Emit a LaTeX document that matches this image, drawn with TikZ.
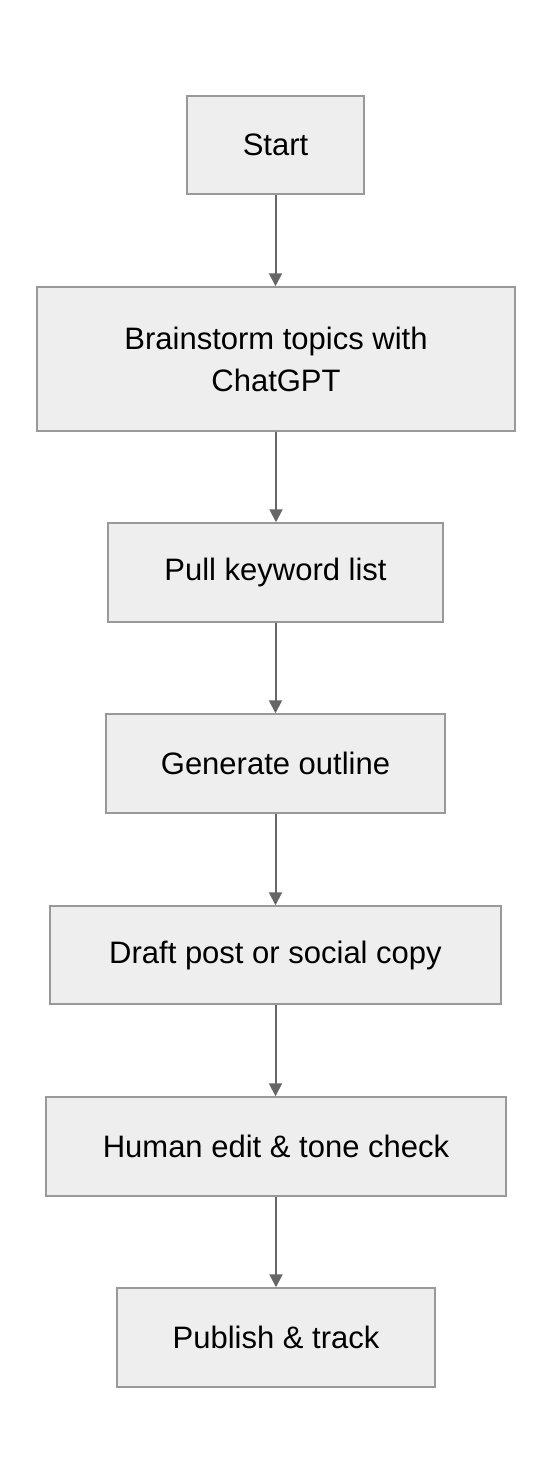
\documentclass[tikz,border=0pt]{standalone}
\usepackage{fontspec}
\setmainfont{Liberation Sans}
\usetikzlibrary{arrows.meta}
\definecolor{boxfill}{HTML}{EEEEEE}
\definecolor{boxdraw}{HTML}{999999}
\definecolor{arrowc}{HTML}{666666}
\begin{document}
\begin{tikzpicture}[x=1pt,y=1pt,
  stepbox/.style={draw=boxdraw,fill=boxfill,line width=1.5pt,inner sep=0pt,align=center,
    font=\fontsize{31}{42}\selectfont},
  conn/.style={draw=arrowc,line width=2pt,-{Triangle[length=13pt,width=13pt]}}]
\useasboundingbox (0,0) rectangle (552,-1484);
\node[stepbox,minimum width=177pt,minimum height=98pt] (s) at (275.5,-145) {Start};
\node[stepbox,minimum width=478pt,minimum height=144pt] (b) at (276,-359) {Brainstorm topics with\\ChatGPT};
\node[stepbox,minimum width=335pt,minimum height=99pt] (p) at (275.5,-572.5) {Pull keyword list};
\node[stepbox,minimum width=339pt,minimum height=99pt] (g) at (275.5,-763.5) {Generate outline};
\node[stepbox,minimum width=451pt,minimum height=98pt] (d) at (275.5,-955) {Draft post or social copy};
\node[stepbox,minimum width=460pt,minimum height=99pt] (h) at (276,-1146.5) {Human edit \& tone check};
\node[stepbox,minimum width=318pt,minimum height=99pt] (u) at (276,-1337.5) {Publish \& track};
\draw[conn] (s.south) -- (s.south |- b.north);
\draw[conn] (b.south) -- (b.south |- p.north);
\draw[conn] (p.south) -- (p.south |- g.north);
\draw[conn] (g.south) -- (g.south |- d.north);
\draw[conn] (d.south) -- (d.south |- h.north);
\draw[conn] (h.south) -- (h.south |- u.north);
\end{tikzpicture}
\end{document}
